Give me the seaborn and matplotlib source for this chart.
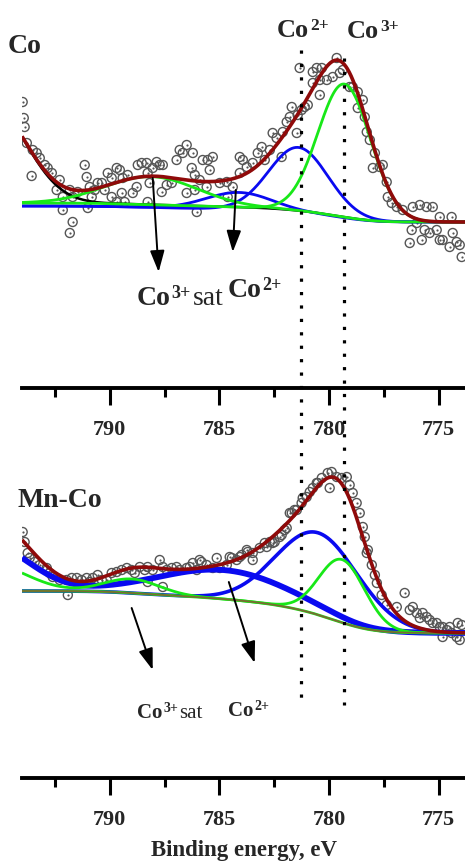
import numpy as np
import pandas as pd
import matplotlib
matplotlib.use("Agg")
import matplotlib.pyplot as plt
import seaborn as sns
from matplotlib.ticker import MultipleLocator

# ---------------------------------------------------------------- data
# Co sample: measured XPS points (binding energy, eV / intensity, a.u.)
co_be = [793.97, 793.92, 793.88, 793.78, 793.56, 793.51, 793.33, 793.19, 792.96, 792.83,
         792.64, 792.42, 792.28, 792.14, 792.14, 791.82, 791.82, 791.69, 791.69, 791.46,
         791.14, 791.05, 791.00, 790.91, 790.82, 790.68, 790.55, 790.36, 790.23, 790.09,
         789.91, 789.91, 789.68, 789.68, 789.54, 789.45, 789.41, 789.32, 789.18, 788.95,
         788.77, 788.72, 788.54, 788.31, 788.27, 788.27, 788.18, 788.04, 787.86, 787.72,
         787.63, 787.58, 787.40, 787.17, 786.95, 786.81, 786.67, 786.49, 786.49, 786.26,
         786.21, 786.12, 786.12, 786.03, 785.90, 785.76, 785.58, 785.53, 785.44, 785.30,
         784.98, 784.66, 784.62, 784.39, 784.07, 784.07, 783.93, 783.75, 783.48, 783.25,
         783.07, 782.93, 782.70, 782.57, 782.39, 782.16, 782.11, 781.93, 781.79, 781.70,
         781.47, 781.43, 781.34, 781.25, 781.11, 780.97, 780.74, 780.74, 780.56, 780.42,
         780.42, 780.33, 780.10, 779.83, 779.65, 779.51, 779.37, 779.06, 778.92, 778.69,
         778.69, 778.46, 778.37, 778.28, 778.14, 778.00, 777.91, 777.69, 777.55, 777.37,
         777.32, 777.14, 776.91, 776.64, 776.32, 776.23, 776.18, 776.00, 775.86, 775.77,
         775.64, 775.55, 775.41, 775.27, 775.09, 774.95, 774.95, 774.82, 774.50, 774.41,
         774.36, 774.18, 774.04, 773.95]
co_int = [158, 142, 133, 117, 84, 110, 107, 102, 95, 92,
          87, 70, 80, 63, 50, 70, 27, 63, 38, 68,
          95, 83, 52, 73, 63, 70, 77, 77, 70, 87,
          82, 63, 92, 58, 90, 67, 82, 58, 85, 67,
          73, 95, 97, 97, 87, 58, 77, 92, 98, 95,
          68, 95, 75, 77, 100, 110, 107, 115, 67, 92,
          107, 85, 70, 48, 80, 100, 73, 100, 90, 103,
          77, 78, 63, 73, 103, 87, 100, 93, 97, 107,
          113, 100, 110, 127, 122, 103, 128, 138, 143, 153,
          127, 145, 192, 150, 153, 155, 188, 177, 192, 180,
          165, 192, 180, 183, 202, 187, 190, 173, 173, 168,
          152, 160, 143, 128, 120, 92, 107, 93, 95, 78,
          63, 57, 53, 50, 17, 30, 53, 37, 55, 20,
          30, 53, 27, 53, 30, 43, 20, 20, 13, 43,
          27, 18, 15, 3]

# Mn-Co sample: measured XPS points
mnco_be = [793.97, 793.88, 793.74, 793.65, 793.42, 793.19, 792.87, 792.74, 792.60, 792.28,
           791.96, 791.91, 791.73, 791.50, 791.28, 791.05, 790.91, 790.77, 790.55, 790.36,
           790.14, 789.91, 789.68, 789.45, 789.22, 789.00, 788.86, 788.63, 788.40, 788.27,
           788.27, 788.04, 787.72, 787.58, 787.58, 787.40, 787.17, 786.95, 786.81, 786.49,
           786.35, 786.21, 786.03, 785.90, 785.81, 785.58, 785.30, 785.12, 784.98, 784.66,
           784.53, 784.43, 784.21, 784.07, 783.98, 783.75, 783.71, 783.48, 783.48, 783.16,
           782.93, 782.84, 782.70, 782.57, 782.48, 782.25, 782.16, 782.02, 781.93, 781.79,
           781.70, 781.57, 781.47, 781.25, 781.20, 781.02, 780.88, 780.74, 780.56, 780.51,
           780.33, 780.06, 779.97, 779.88, 779.65, 779.42, 779.19, 779.06, 778.92, 778.74,
           778.60, 778.46, 778.37, 778.28, 778.23, 778.05, 777.91, 777.82, 777.60, 777.37,
           776.91, 776.55, 776.32, 776.18, 776.00, 775.86, 775.73, 775.55, 775.41, 775.27,
           775.09, 774.95, 774.82, 774.82, 774.63, 774.50, 774.41, 774.18, 774.13, 774.04,
           773.95]
mnco_int = [118, 108, 97, 92, 88, 85, 82, 77, 73, 70,
            70, 55, 72, 72, 70, 72, 68, 72, 75, 70,
            70, 77, 78, 80, 82, 80, 77, 83, 80, 83,
            68, 80, 90, 83, 63, 80, 82, 83, 80, 82,
            83, 87, 80, 90, 88, 85, 82, 92, 82, 85,
            93, 92, 90, 93, 95, 100, 98, 90, 97, 102,
            107, 103, 108, 107, 108, 113, 115, 120, 122, 137,
            137, 140, 140, 147, 152, 153, 158, 162, 167, 167,
            172, 177, 162, 178, 173, 172, 173, 165, 157, 147,
            137, 123, 113, 97, 100, 85, 75, 67, 55, 45,
            43, 57, 40, 43, 37, 32, 37, 33, 30, 27,
            27, 23, 23, 13, 20, 23, 17, 13, 27, 10,
            25]

# Fitted Gaussian components: centre (eV), height (a.u.), sigma (eV)
co_comp = ["Co3+", "Co2+", "Co2+ sat", "Co3+ sat", "2p1/2"]
co_center = [779.3, 781.4, 784.1, 788.1, 795.5]
co_height = [133, 65, 17, 28, 100]
co_sigma = [1.2, 1.35, 1.5, 2.1, 1.65]
co_bg_green = [38, 57]      # Shirley background: low-BE end, high-BE end
co_bg_blue = [38, 54]

mnco_comp = ["Co3+", "Co2+", "Co2+ sat", "Co3+ sat", "Co2+ 2p1/2", "Co3+ 2p1/2"]
mnco_center = [779.4, 780.5, 784.8, 789.0, 795.5, 795.5]
mnco_height = [63, 82, 29, 14, 46, 27]
mnco_sigma = [1.05, 1.9, 3.0, 1.25, 1.83, 1.67]
mnco_bg = [17, 59]

# reference lines and axis
ref_lines_be = [781.3, 779.3]
xticks = [790, 785, 780, 775]
be_range = [773.8, 794.0]

# ---------------------------------------------------------------- style
sns.set_style("white")
plt.rcParams["font.family"] = ["Liberation Serif", "DejaVu Serif"]

RED = "#8f0a0a"
GREEN = "#18e818"
BLUE = "#0a0af0"
BROWN = "#7a6a32"
PT = "#555555"

W, H = 465, 861
fig = plt.figure(figsize=(W / 100, H / 100), dpi=100)


def fx(x):
    return x / W


def fy(y):
    return 1 - y / H


ax_top = fig.add_axes([fx(22), fy(388), (W - 22) / W, 388 / H])
ax_bot = fig.add_axes([fx(22), fy(778), (W - 22) / W, (778 - 440) / H])
ax_over = fig.add_axes([fx(22), 0, (W - 22) / W, 1], zorder=6)
ax_over.set_xlim(be_range[1], be_range[0])
ax_over.set_ylim(H, 0)
ax_over.axis("off")

grid = np.linspace(be_range[0], be_range[1], 900)


def gauss(c, h, s):
    return h * np.exp(-(grid - c) ** 2 / (2 * s ** 2))


def shirley(peaks, low, high):
    cum = np.cumsum(peaks)
    cum = cum / cum[-1]
    return low + (high - low) * cum


def line(ax, y, color, lw, z):
    sns.lineplot(x=grid, y=y, ax=ax, color=color, lw=lw, zorder=z,
                 estimator=None, sort=False, solid_capstyle="butt")


def points(ax, be, inten):
    df = pd.DataFrame({"be": be, "int": inten})
    sns.scatterplot(data=df, x="be", y="int", ax=ax, marker="o", s=42,
                    facecolor="none", edgecolor=PT, linewidth=1.0, zorder=1)
    sns.scatterplot(data=df, x="be", y="int", ax=ax, marker="o", s=2.5,
                    color=PT, linewidth=0, zorder=1)


# ---------------- Co panel
g = [gauss(c, h, s) for c, h, s in zip(co_center, co_height, co_sigma)]
main_sum = g[0] + g[1] + g[2] + g[3]
bg_g = shirley(main_sum, *co_bg_green)
bg_b = shirley(main_sum, *co_bg_blue)
points(ax_top, co_be, co_int)
line(ax_top, bg_g + g[4], "black", 1.8, 2)
line(ax_top, bg_b + g[2], BLUE, 2.0, 2.5)
line(ax_top, bg_b + g[1], BLUE, 2.0, 2.5)
line(ax_top, bg_g + g[3], GREEN, 2.0, 3)
line(ax_top, bg_g + g[0], GREEN, 2.0, 3)
line(ax_top, bg_g + main_sum + g[4], RED, 2.6, 4)

# ---------------- Mn-Co panel
m = [gauss(c, h, s) for c, h, s in zip(mnco_center, mnco_height, mnco_sigma)]
m_main = m[0] + m[1] + m[2] + m[3]
bg_m = shirley(m_main, *mnco_bg)
points(ax_bot, mnco_be, mnco_int)
line(ax_bot, bg_m + m[1], BLUE, 2.6, 2)
line(ax_bot, bg_m + m[2] + m[4], BLUE, 4.2, 2.5)
line(ax_bot, bg_m + m[3] + m[5], GREEN, 2.0, 3)
line(ax_bot, bg_m + m[0], GREEN, 2.0, 3)
line(ax_bot, bg_m, BROWN, 1.3, 3.5)
line(ax_bot, bg_m + m_main + m[4] + m[5], RED, 2.6, 4)

# ---------------- axes styling
for ax, ylim in ((ax_top, (-128, 260)), (ax_bot, (-128, 210))):
    ax.set_xlim(be_range[1], be_range[0])
    ax.set_ylim(*ylim)
    ax.patch.set_alpha(0)
    for side in ("left", "right", "top"):
        ax.spines[side].set_visible(False)
    ax.spines["bottom"].set_linewidth(2.8)
    ax.spines["bottom"].set_color("black")
    ax.set_yticks([])
    ax.set_ylabel("")
    ax.set_xlabel("")
    ax.set_xticks(xticks)
    ax.set_xticklabels([str(t) for t in xticks], fontsize=16, fontweight="bold")
    ax.xaxis.set_minor_locator(MultipleLocator(2.5))
    ax.tick_params(axis="x", which="major", direction="out", length=12, width=2.2,
                   pad=11, bottom=True, color="black")
    ax.tick_params(axis="x", which="minor", direction="out", length=6.5, width=2.2,
                   bottom=True, color="black")

ax_bot.set_xlabel("Binding energy, eV", fontsize=16.5, fontweight="bold", labelpad=7)

# ---------------- dotted reference lines spanning both panels
for be, y0, y1 in zip(ref_lines_be, (50, 58), (700, 705)):
    ax_over.plot([be, be], [y0, y1], color="black", lw=2.3,
                 ls=(0, (1, 3.2)), solid_capstyle="butt")

# ---------------- arrows
arrow_kw = dict(arrowstyle="-|>,head_length=0.65,head_width=0.22", color="black",
                lw=1.4, mutation_scale=20, shrinkA=0, shrinkB=0)
for ax, arrows in ((ax_top, [((788.04, 82), (787.77, -12)), ((784.25, 70), (784.39, 8))]),
                   (ax_bot, [((789.0, 42), (788.04, -20)), ((784.57, 68), (783.39, -13))])):
    for start, end in arrows:
        ax.annotate("", xy=end, xytext=start, arrowprops=arrow_kw, zorder=5)


# ---------------- texts
def ion_label(x, y, base, sup, tail=None, size=20, supsize=13):
    t = ax_over.text(fx(x), fy(y), base, transform=fig.transFigure, fontsize=size,
                     fontweight="bold", va="baseline", ha="left")
    s = ax_over.annotate(sup, xy=(1, 1), xycoords=t, xytext=(0.6, 1.0),
                         textcoords="offset points", fontsize=supsize,
                         fontweight="bold", va="top", ha="left")
    if tail:
        ax_over.annotate(tail, xy=(1, 0), xycoords=(s, t), xytext=(1.0, 0),
                         textcoords="offset points", fontsize=size,
                         va="bottom", ha="left")


fig.text(fx(8), fy(53), "Co", fontsize=20, fontweight="bold", va="baseline")
fig.text(fx(17), fy(507), "Mn-Co", fontsize=20, fontweight="bold", va="baseline")
ion_label(277, 37, "Co", "2+", size=19, supsize=12.5)
ion_label(347, 38, "Co", "3+", size=19, supsize=12.5)
ion_label(137, 305, "Co", "3+", "sat", size=20, supsize=13)
ion_label(228, 297, "Co", "2+", size=20, supsize=13)
ion_label(137, 718, "Co", "3+", "sat", size=15, supsize=10)
ion_label(228, 716, "Co", "2+", size=15, supsize=10)

fig.savefig("out.png", dpi=100)
